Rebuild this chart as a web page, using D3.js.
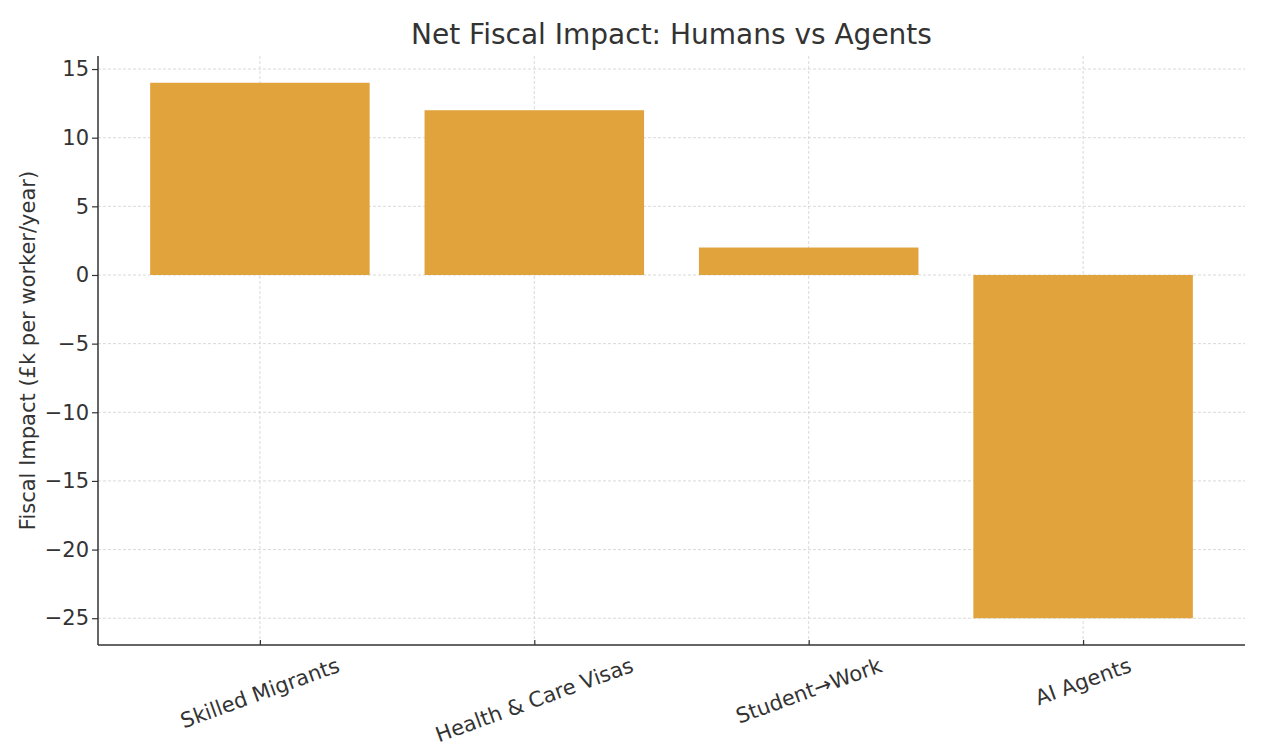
<!DOCTYPE html>
<html>
<head>
<meta charset="utf-8">
<script src="https://cdn.jsdelivr.net/npm/d3@7"></script>
<style>
  body { margin: 0; background: #fff; }
  svg text { font-family: "DejaVu Sans", sans-serif; fill: #333; }
</style>
</head>
<body>
<svg id="chart" width="1262" height="756"></svg>
<script>
var categories = ["Skilled Migrants", "Health & Care Visas", "Student\u2192Work", "AI Agents"];
var values = [14, 12, 2, -25];
var yTicks = [15, 10, 5, 0, -5, -10, -15, -20, -25];

var svg = d3.select("#chart"),
    margin = { top: 56, right: 17, bottom: 111, left: 98 },
    width = +svg.attr("width") - margin.left - margin.right,
    height = +svg.attr("height") - margin.top - margin.bottom,
    g = svg.append("g").attr("transform", "translate(" + margin.left + "," + margin.top + ")");

// matplotlib style: bar width 0.8, 5% margins
var x = d3.scaleLinear().domain([-0.59, categories.length - 1 + 0.59]).range([0, width]);
var y = d3.scaleLinear().domain([-26.95, 15.95]).range([height, 0]);
var barW = x(0.8) - x(0);

// grid
g.append("g").selectAll("line")
    .data(yTicks).enter().append("line")
    .attr("x1", 0).attr("x2", width)
    .attr("y1", function (d) { return y(d); })
    .attr("y2", function (d) { return y(d); })
    .attr("stroke", "#cfcfcf").attr("stroke-width", 0.8)
    .attr("stroke-dasharray", "3,2");

g.append("g").selectAll("line")
    .data(categories).enter().append("line")
    .attr("x1", function (d, i) { return x(i); })
    .attr("x2", function (d, i) { return x(i); })
    .attr("y1", 0).attr("y2", height)
    .attr("stroke", "#cfcfcf").attr("stroke-width", 0.8)
    .attr("stroke-dasharray", "3,2");

// bars
g.append("g").selectAll("rect")
    .data(values).enter().append("rect")
    .attr("x", function (d, i) { return x(i) - barW / 2; })
    .attr("width", barW)
    .attr("y", function (d) { return y(Math.max(0, d)); })
    .attr("height", function (d) { return Math.abs(y(d) - y(0)); })
    .attr("fill", "#e0a238")
    .attr("fill-opacity", 0.98);

// y axis
var yAxis = g.append("g")
    .call(d3.axisLeft(y).tickValues(yTicks).tickSize(6).tickPadding(3)
        .tickFormat(function (d) { return d < 0 ? "\u2212" + Math.abs(d) : d; }));
yAxis.select(".domain").remove();
yAxis.selectAll(".tick line").attr("stroke", "#333").attr("stroke-width", 1.2);
yAxis.selectAll(".tick text").attr("font-size", "21px").attr("fill", "#333");

// x axis (ticks inward)
var xAxis = g.append("g")
    .attr("transform", "translate(0," + height + ")")
    .call(d3.axisBottom(x).tickValues(d3.range(categories.length)).tickSize(-5).tickFormat(""));
xAxis.select(".domain").remove();
xAxis.selectAll(".tick line").attr("stroke", "#333").attr("stroke-width", 1.2);

// rotated labels, top of rotated box sits just under the axis
var ang = 20 * Math.PI / 180;
g.append("g").selectAll("text")
    .data(categories).enter().append("text")
    .attr("text-anchor", "middle")
    .attr("dy", "0.35em")
    .attr("font-size", "21px")
    .text(function (d) { return d; })
    .each(function (d, i) {
        var b = this.getBBox();
        var H = b.width * Math.sin(ang) + b.height * Math.cos(ang);
        d3.select(this).attr("transform",
            "translate(" + x(i) + "," + (height + 8 + H / 2) + ") rotate(-20)");
    });

// spines
g.append("line").attr("x1", 0).attr("x2", 0).attr("y1", 0).attr("y2", height)
    .attr("stroke", "#333").attr("stroke-width", 1.5);
g.append("line").attr("x1", 0).attr("x2", width).attr("y1", height).attr("y2", height)
    .attr("stroke", "#333").attr("stroke-width", 1.5);

// title
svg.append("text")
    .attr("x", margin.left + width / 2)
    .attr("y", 44)
    .attr("text-anchor", "middle")
    .attr("font-size", "28px")
    .text("Net Fiscal Impact: Humans vs Agents");

// y label
svg.append("text")
    .attr("transform", "translate(35," + (margin.top + height / 2) + ") rotate(-90)")
    .attr("text-anchor", "middle")
    .attr("font-size", "21px")
    .text("Fiscal Impact (\u00a3k per worker/year)");
</script>
</body>
</html>
